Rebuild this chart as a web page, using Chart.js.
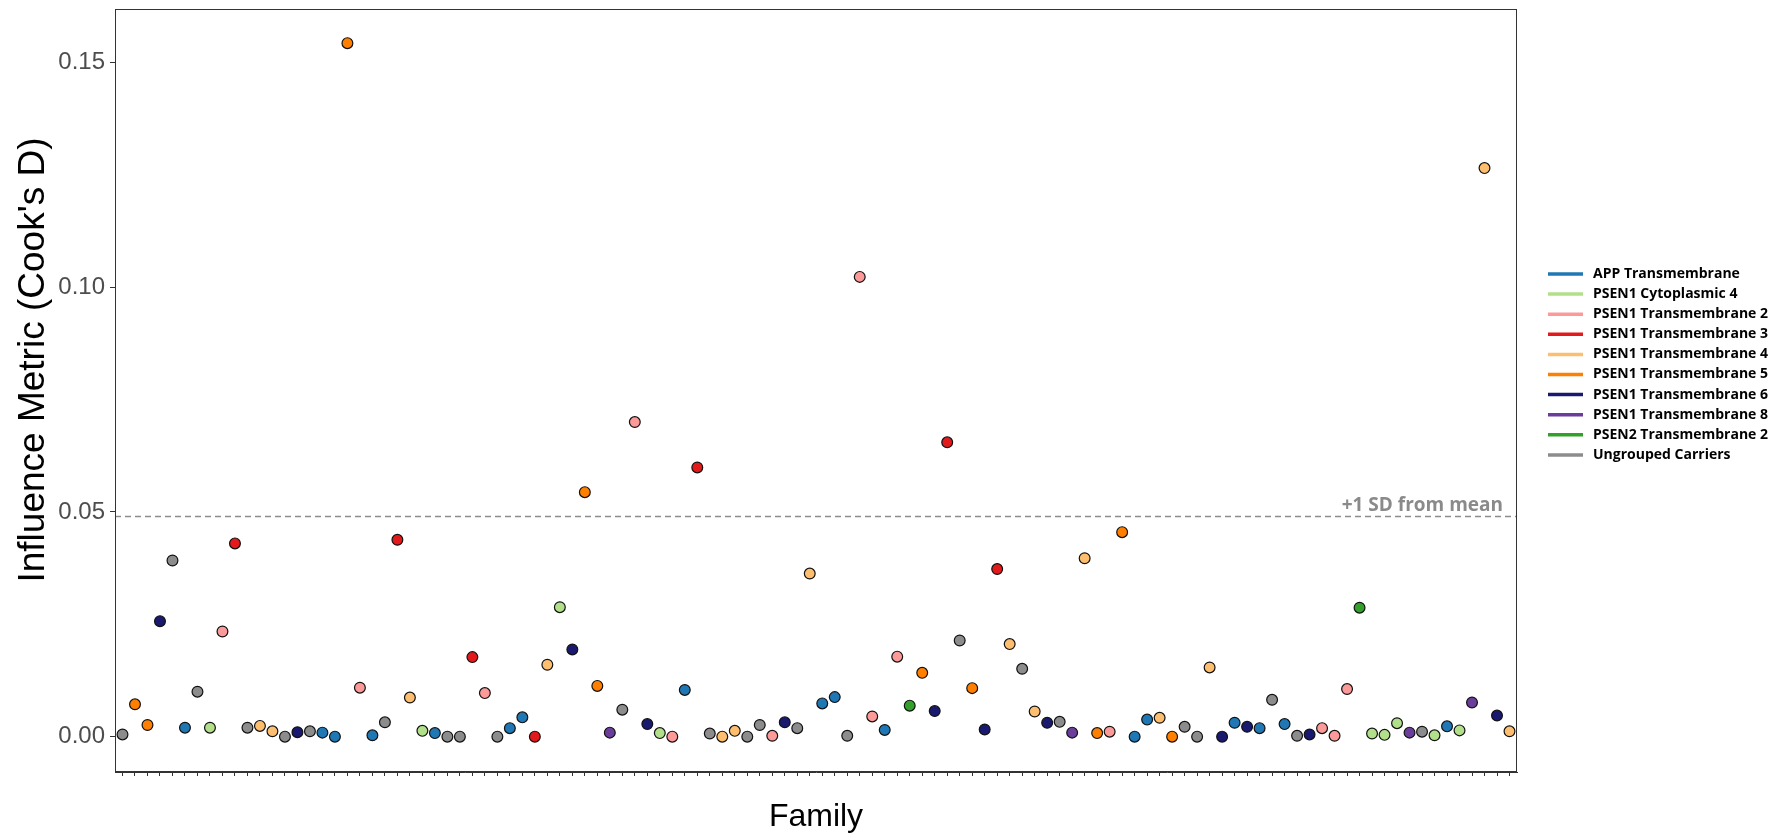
<!DOCTYPE html>
<html><head><meta charset="utf-8">
<script src="https://cdn.jsdelivr.net/npm/chart.js@4.4.1/dist/chart.umd.min.js"></script>
<style>html,body{margin:0;padding:0;background:#fff;}canvas{display:block;}</style>
</head><body>
<canvas id="c" width="1792" height="835"></canvas>
<script>
const groupNames = ['APP Transmembrane','PSEN1 Cytoplasmic 4','PSEN1 Transmembrane 2','PSEN1 Transmembrane 3','PSEN1 Transmembrane 4','PSEN1 Transmembrane 5','PSEN1 Transmembrane 6','PSEN1 Transmembrane 8','PSEN2 Transmembrane 2','Ungrouped Carriers'];
const groupColors = ['#1f78b4','#b2df8a','#fb9a99','#e31a1c','#fdbf6f','#ff7f00','#191970','#6a3d9a','#33a02c','#8c8c8c'];
const familyGroup = [
 9,5,5,6,9,0,9,1,2,3,
 9,4,4,9,6,9,0,0,5,2,
 0,9,3,4,1,0,9,9,3,2,
 9,0,0,3,4,1,6,5,5,7,
 9,2,6,1,2,0,3,9,4,4,
 9,9,2,6,9,4,0,0,9,2,
 2,0,2,8,5,6,3,9,5,6,
 3,4,9,4,6,9,7,4,5,2,
 5,0,0,4,5,9,9,4,6,0,
 6,0,9,0,9,6,2,2,2,8,
 1,1,1,7,9,1,0,1,7,4,
 6,4];
const cooksD = [
 0.0005,0.0072,0.0026,0.0257,0.0392,0.0020,0.0100,0.0020,0.0234,0.0430,
 0.0020,0.0024,0.0012,0.0000,0.0010,0.0012,0.0009,0.0000,0.1543,0.0109,
 0.0003,0.0032,0.0438,0.0087,0.0013,0.0008,0.0000,0.0000,0.0177,0.0097,
 0.0000,0.0019,0.0043,0.0000,0.0160,0.0288,0.0194,0.0544,0.0113,0.0009,
 0.0060,0.0700,0.0028,0.0008,0.0000,0.0104,0.0599,0.0007,0.0000,0.0013,
 0.0000,0.0026,0.0002,0.0032,0.0019,0.0363,0.0074,0.0088,0.0002,0.1023,
 0.0045,0.0015,0.0178,0.0069,0.0142,0.0057,0.0655,0.0214,0.0108,0.0016,
 0.0373,0.0206,0.0151,0.0056,0.0031,0.0033,0.0009,0.0397,0.0008,0.0011,
 0.0455,0.0000,0.0038,0.0042,0.0000,0.0022,0.0000,0.0154,0.0000,0.0031,
 0.0022,0.0019,0.0082,0.0028,0.0002,0.0005,0.0019,0.0002,0.0106,0.0287,
 0.0007,0.0004,0.0030,0.0009,0.0011,0.0003,0.0023,0.0014,0.0076,0.1265,
 0.0047,0.0012];
const families = cooksD.map((_, i) => 'Family ' + (i + 1));
const yTickValues = [0, 0.05, 0.10, 0.15];
const yTickLabels = ['0.00', '0.05', '0.10', '0.15'];
const sdThreshold = 0.049;
const sdLabel = '+1 SD from mean';
const xTitle = 'Family';
const yTitle = "Influence Metric (Cook's D)";

const decor = {
  id: 'decor',
  beforeDatasetsDraw(chart) {
    const {ctx, chartArea: a, scales} = chart;
    const y = scales.y.getPixelForValue(sdThreshold);
    ctx.save();
    ctx.strokeStyle = '#8c8c8c';
    ctx.lineWidth = 1.4;
    ctx.setLineDash([6, 4]);
    ctx.beginPath(); ctx.moveTo(a.left, y); ctx.lineTo(a.right, y); ctx.stroke();
    ctx.setLineDash([]);
    ctx.fillStyle = '#8a8a8a';
    ctx.font = 'bold 19px "Open Sans"';
    ctx.textAlign = 'right';
    ctx.textBaseline = 'alphabetic';
    ctx.fillText(sdLabel, a.right - 14, y - 5);
    ctx.restore();
  },
  afterDraw(chart) {
    const {ctx, chartArea: a} = chart;
    ctx.save();
    ctx.strokeStyle = '#333';
    ctx.lineWidth = 1;
    ctx.strokeRect(a.left + 0.5, a.top + 0.5, a.right - a.left - 1, a.bottom - a.top - 1);
    ctx.fillStyle = '#000';
    ctx.font = '32px "Liberation Sans"';
    ctx.textAlign = 'center';
    ctx.textBaseline = 'middle';
    ctx.fillText(xTitle, (a.left + a.right) / 2, 817);
    ctx.save();
    ctx.translate(34, 360);
    ctx.rotate(-Math.PI / 2);
    ctx.font = '37px "Liberation Sans"';
    ctx.fillText(yTitle, 0, 0);
    ctx.restore();
    ctx.textAlign = 'left';
    ctx.font = 'bold 14px "Open Sans"';
    groupNames.forEach((g, i) => {
      const yy = 274 + i * 20.1;
      ctx.strokeStyle = groupColors[i];
      ctx.lineWidth = 3.5;
      ctx.beginPath(); ctx.moveTo(1548, yy); ctx.lineTo(1583, yy); ctx.stroke();
      ctx.fillStyle = '#000';
      ctx.fillText(g, 1593, yy);
    });
    ctx.restore();
  }
};

new Chart(document.getElementById('c'), {
  type: 'scatter',
  data: {
    datasets: [{
      label: 'Cook\'s D',
      data: cooksD.map((v, i) => ({x: i, y: v})),
      backgroundColor: familyGroup.map(g => groupColors[g]),
      borderColor: '#111',
      borderWidth: 1.2,
      pointRadius: 5.4,
      pointHoverRadius: 5.4
    }]
  },
  options: {
    responsive: false,
    devicePixelRatio: 1,
    animation: false,
    layout: {padding: {top: 9, right: 275, bottom: 0, left: 0}},
    plugins: {legend: {display: false}, tooltip: {enabled: false}},
    scales: {
      x: {
        type: 'linear', min: -0.6, max: 111.6,
        afterBuildTicks: s => { s.ticks = families.map((_, i) => ({value: i})); },
        ticks: {autoSkip: false, maxRotation: 0, callback: () => '', font: {size: 10}},
        grid: {drawOnChartArea: false, drawTicks: true, tickLength: 4, color: '#333', tickColor: '#333'},
        border: {display: true, color: '#333', width: 1},
        afterFit: s => { s.height = 63; s.paddingLeft = 0; s.paddingRight = 0; }
      },
      y: {
        min: -0.00786, max: 0.1619,
        afterBuildTicks: s => { s.ticks = yTickValues.map(v => ({value: v})); },
        ticks: {callback: (v, i) => yTickLabels[i], font: {size: 24, family: '"Liberation Sans"'}, color: '#4d4d4d', padding: 5},
        grid: {drawOnChartArea: false, drawTicks: true, tickLength: 5, color: '#333', tickColor: '#333'},
        border: {display: true, color: '#333', width: 1},
        afterFit: s => { s.width = 115; s.paddingTop = 0; s.paddingBottom = 0; }
      }
    }
  },
  plugins: [decor]
});
</script>
</body></html>
